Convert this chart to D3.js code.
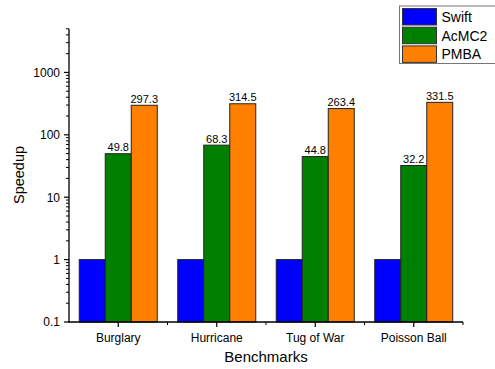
<!DOCTYPE html>
<html>
<head>
<meta charset="utf-8">
<script src="https://cdn.jsdelivr.net/npm/d3@7"></script>
<style>
  html, body { margin: 0; padding: 0; background: #fff; }
  svg { display: block; }
  text { font-family: Arial, "Liberation Sans", sans-serif; fill: #000; }
</style>
</head>
<body>
<svg id="chart" width="495" height="369"></svg>
<script>
// Benchmarks and speedups for each tool
const categories = ["Burglary", "Hurricane", "Tug of War", "Poisson Ball"];
const seriesNames = ["Swift", "AcMC2", "PMBA"];
const swiftValues = [1, 1, 1, 1];
const acmc2Values = [49.8, 68.3, 44.8, 32.2];
const pmbaValues = [297.3, 314.5, 263.4, 331.5];
const yTickValues = [0.1, 1, 10, 100, 1000];
const seriesColors = ["#0000ff", "#008000", "#ff8000"];
const labelledSeries = ["AcMC2", "PMBA"];

const seriesValues = { Swift: swiftValues, AcMC2: acmc2Values, PMBA: pmbaValues };

const svg = d3.select("#chart");
const plot = { left: 69, right: 463, top: 28.8, bottom: 322 };

const x0 = d3.scaleBand().domain(categories).range([plot.left, plot.right]).padding(0);
const x1 = d3.scaleBand().domain(seriesNames).range([0, x0.bandwidth()])
  .paddingInner(0).paddingOuter(0.394);
const y = d3.scaleLog().domain([0.1, 5000]).range([plot.bottom, plot.top]);
const color = d3.scaleOrdinal().domain(seriesNames).range(seriesColors);

// Bars
const rows = categories.map((c, i) => ({
  cat: c,
  vals: seriesNames.map(s => ({ series: s, value: seriesValues[s][i] }))
}));

const groups = svg.append("g").selectAll("g").data(rows).join("g")
  .attr("transform", d => `translate(${x0(d.cat)},0)`);

groups.selectAll("rect").data(d => d.vals).join("rect")
  .attr("x", d => x1(d.series))
  .attr("y", d => y(d.value))
  .attr("width", x1.bandwidth())
  .attr("height", d => y(0.1) - y(d.value))
  .attr("fill", d => color(d.series))
  .attr("stroke", "#222")
  .attr("stroke-width", 1);

groups.selectAll("text.val").data(d => d.vals.filter(v => labelledSeries.includes(v.series)))
  .join("text").attr("class", "val")
  .attr("x", d => x1(d.series) + x1.bandwidth() / 2)
  .attr("y", d => y(d.value) - 2.5)
  .attr("text-anchor", "middle")
  .attr("font-size", 11)
  .text(d => d.value.toFixed(1));

// Y axis with log minor ticks
const minorTicks = [];
[0.1, 1, 10, 100, 1000].forEach(dec => {
  for (let k = 2; k <= 9; k++) {
    const v = dec * k;
    if (v <= 5000 + 1e-9) minorTicks.push(v);
  }
});

const yAxis = svg.append("g").attr("transform", `translate(${plot.left},0)`);
yAxis.append("line")
  .attr("x1", 0).attr("x2", 0)
  .attr("y1", y(5000)).attr("y2", y(0.1) + 0.5)
  .attr("stroke", "#000").attr("stroke-width", 1.3);
yAxis.selectAll("line.major").data(yTickValues).join("line").attr("class", "major")
  .attr("x1", -5).attr("x2", 0)
  .attr("y1", d => y(d)).attr("y2", d => y(d))
  .attr("stroke", "#000").attr("stroke-width", 1.2);
yAxis.selectAll("line.minor").data(minorTicks).join("line").attr("class", "minor")
  .attr("x1", -3).attr("x2", 0)
  .attr("y1", d => y(d)).attr("y2", d => y(d))
  .attr("stroke", "#000").attr("stroke-width", 1);
yAxis.selectAll("text").data(yTickValues).join("text")
  .attr("x", -9)
  .attr("y", d => y(d) + 4.3)
  .attr("text-anchor", "end")
  .attr("font-size", 12)
  .text(d => d3.format("~g")(d));

// X axis: major ticks at group centres, minor ticks at group boundaries
const xAxis = svg.append("g").attr("transform", `translate(0,${plot.bottom})`);
xAxis.append("line")
  .attr("x1", plot.left - 0.6).attr("x2", plot.right)
  .attr("y1", 0).attr("y2", 0)
  .attr("stroke", "#000").attr("stroke-width", 1.3);
xAxis.selectAll("line.major").data(categories).join("line").attr("class", "major")
  .attr("x1", d => x0(d) + x0.bandwidth() / 2).attr("x2", d => x0(d) + x0.bandwidth() / 2)
  .attr("y1", 0).attr("y2", 5)
  .attr("stroke", "#000").attr("stroke-width", 1.2);
xAxis.selectAll("line.minor").data(categories.slice(1).concat(["__end"])).join("line").attr("class", "minor")
  .attr("x1", d => d === "__end" ? plot.right : x0(d))
  .attr("x2", d => d === "__end" ? plot.right : x0(d))
  .attr("y1", 0).attr("y2", 3)
  .attr("stroke", "#000").attr("stroke-width", 1);
xAxis.selectAll("text").data(categories).join("text")
  .attr("x", d => x0(d) + x0.bandwidth() / 2)
  .attr("y", 19.5)
  .attr("text-anchor", "middle")
  .attr("font-size", 12)
  .text(d => d);

// Axis titles
svg.append("text")
  .attr("x", (plot.left + plot.right) / 2)
  .attr("y", 362)
  .attr("text-anchor", "middle")
  .attr("font-size", 15)
  .text("Benchmarks");
svg.append("text")
  .attr("transform", `translate(24,175) rotate(-90)`)
  .attr("text-anchor", "middle")
  .attr("font-size", 14.5)
  .text("Speedup");

// Legend
const legend = svg.append("g").attr("transform", "translate(399.5,6)");
legend.append("rect")
  .attr("x", 0).attr("y", 0).attr("width", 100).attr("height", 57.5)
  .attr("fill", "#fff").attr("stroke", "#777").attr("stroke-width", 1);
const legendRow = legend.selectAll("g").data(seriesNames).join("g")
  .attr("transform", (d, i) => `translate(3,${2.5 + i * 18.7})`);
legendRow.append("rect")
  .attr("x", 0).attr("y", 0).attr("width", 34).attr("height", 16.5)
  .attr("fill", d => color(d)).attr("stroke", "#333").attr("stroke-width", 1);
legendRow.append("text")
  .attr("x", 39).attr("y", 13.5)
  .attr("font-size", 14)
  .text(d => d);
</script>
</body>
</html>
